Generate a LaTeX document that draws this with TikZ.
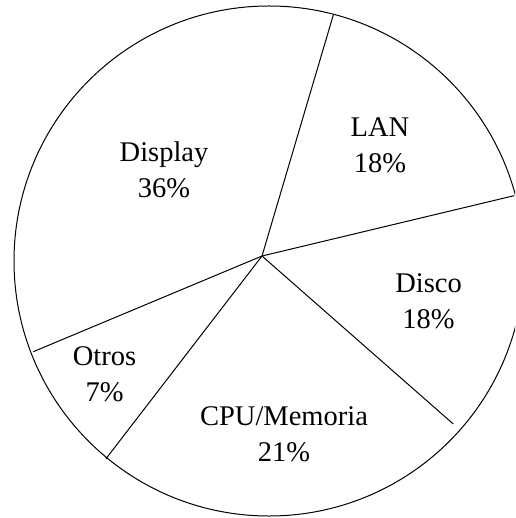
\documentclass[tikz,border=0pt]{standalone}
\usepackage{fontspec}
\setmainfont{Liberation Serif}
\begin{document}
\begin{tikzpicture}[x=1pt,y=-1pt,
  spoke/.style={draw=black,line width=1pt},
  lbl/.style={align=center,inner sep=0pt,font=\fontsize{28.5}{36}\selectfont}]
\useasboundingbox (0,0) rectangle (515,518);
\clip (0,0) rectangle (515,518);
\coordinate (o) at (269,261);
\coordinate (hub) at (262,256);
\coordinate (p1) at (333.3,15);
\coordinate (p2) at (514,195.7);
\coordinate (p3) at (453.3,424);
\coordinate (p4) at (106,458.7);
\coordinate (p5) at (33.3,351.7);
\draw[line width=1pt] (o) circle[radius=255];
\draw[spoke] (hub) -- (p1);
\draw[spoke] (hub) -- (p2);
\draw[spoke] (hub) -- (p3);
\draw[spoke] (hub) -- (p4);
\draw[spoke] (hub) -- (p5);
\node[lbl] (display) at (164,170) {Display\\36\%};
\node[lbl] (lan) at (380,145) {LAN\\18\%};
\node[lbl] (disco) at (428.5,301) {Disco\\18\%};
\node[lbl] (otros) at (104.5,374) {Otros\\7\%};
\node[lbl] (cpu) at (284,434.5) {CPU/Memoria\\21\%};
\end{tikzpicture}
\end{document}
